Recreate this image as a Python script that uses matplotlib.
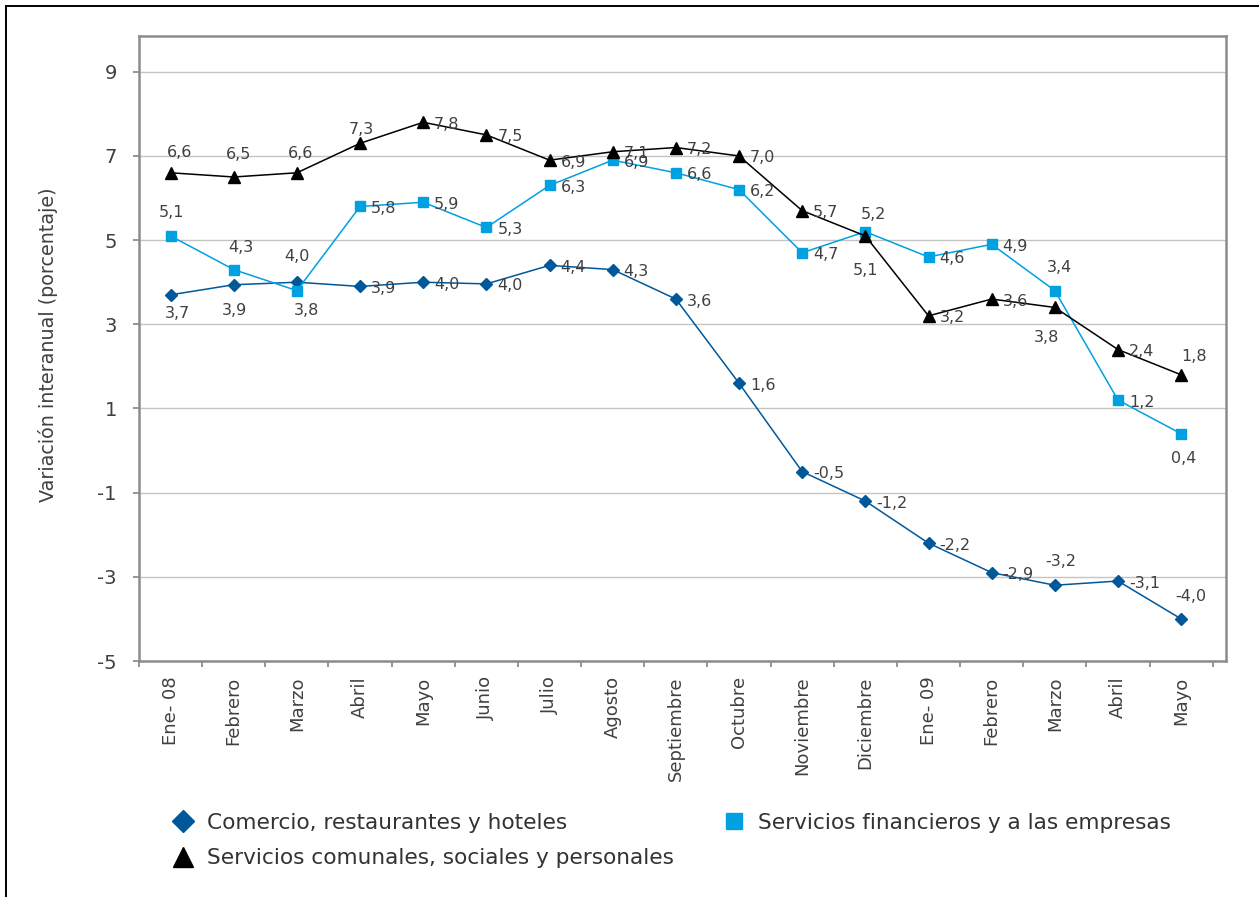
import matplotlib
matplotlib.use("Agg")
import matplotlib.pyplot as plt
from matplotlib.lines import Line2D
import numpy as np

months = ['Ene- 08', 'Febrero', 'Marzo', 'Abril', 'Mayo', 'Junio', 'Julio', 'Agosto',
          'Septiembre', 'Octubre', 'Noviembre', 'Diciembre', 'Ene- 09', 'Febrero',
          'Marzo', 'Abril', 'Mayo']

comercio = [3.7, 3.94, 4.0, 3.9, 4.0, 3.96, 4.4, 4.3, 3.6, 1.6, -0.5, -1.2, -2.2, -2.9, -3.2, -3.1, -4.0]
financieros = [5.1, 4.3, 3.8, 5.8, 5.9, 5.3, 6.3, 6.9, 6.6, 6.2, 4.7, 5.2, 4.6, 4.9, 3.8, 1.2, 0.4]
comunales = [6.6, 6.5, 6.6, 7.3, 7.8, 7.5, 6.9, 7.1, 7.2, 7.0, 5.7, 5.1, 3.2, 3.6, 3.4, 2.4, 1.8]

name_comercio = 'Comercio, restaurantes y hoteles'
name_financieros = 'Servicios financieros y a las empresas'
name_comunales = 'Servicios comunales, sociales y personales'

c_dark = '#00589A'
c_light = '#00A0E1'
c_black = '#000000'
txt = '#404040'

# label placement (pixel offsets of label centre); 'R' = to the right of the marker
R = 'R'
off_comunales = [(9, 20), (5, 22), (4, 19), (1, 14), R, R, R, R, R, R, R, (0, -35), R, R, (5, 40), R, (13, 18)]
off_financieros = [(1, 23), (7, 22), (10, -20), R, R, R, R, R, R, R, R, (8, 17), R, R, (-8, -47), R, (3, -25)]
off_comercio = [(7, -19), (1, -26), (0, 26), R, R, R, R, R, R, R, R, R, R, R, (6, 24), R, (10, 22)]

fig = plt.figure(figsize=(12.59, 8.97), dpi=100)
ax = fig.add_axes([139 / 1259, 1 - 661 / 897, (1226 - 139) / 1259, (661 - 36) / 897])

x = np.arange(len(months))
ax.plot(x, comercio, color=c_dark, marker='D', markersize=6.5, linewidth=1.1, zorder=3)
ax.plot(x, financieros, color=c_light, marker='s', markersize=7.5, linewidth=1.1, zorder=3)
ax.plot(x, comunales, color=c_black, marker='^', markersize=8.5, linewidth=1.1, zorder=4)


def label_series(vals, offs):
    for xi, v, o in zip(x, vals, offs):
        s = f'{v:.1f}'.replace('.', ',')
        if o == R:
            ax.annotate(s, (xi, v), xytext=(11, -2), textcoords='offset pixels',
                        ha='left', va='center', fontsize=11.5, color=txt, zorder=5)
        else:
            ax.annotate(s, (xi, v), xytext=o, textcoords='offset pixels',
                        ha='center', va='center', fontsize=11.5, color=txt, zorder=5)


label_series(comunales, off_comunales)
label_series(financieros, off_financieros)
label_series(comercio, off_comercio)

ax.set_xlim(-0.5, 16.71)
ax.set_ylim(-5, 9.85)
yt = np.arange(-5, 10, 2)
ax.set_yticks(yt)
ax.set_yticklabels([str(v) for v in yt], fontsize=14, color=txt)
ax.yaxis.grid(True, color='#C4C4C4', linewidth=1.0)
ax.set_axisbelow(True)

ax.set_xticks(x)
ax.set_xticklabels(months, rotation=90, fontsize=13, color=txt, va='top', ha='center')
ax.set_xticks(np.arange(-0.5, len(months)), minor=True)
ax.tick_params(axis='x', which='major', length=0, pad=11)
ax.tick_params(axis='x', which='minor', length=4, width=1.3, color='#8C8C8C', direction='out')
ax.tick_params(axis='y', length=4, width=1.3, color='#8C8C8C', pad=12)

for sp in ax.spines.values():
    sp.set_color('#8C8C8C')
    sp.set_linewidth(1.8)

fig.text(48 / 1259, 1 - 345 / 897, 'Variación interanual (porcentaje)', rotation=90,
         ha='center', va='center', fontsize=13.8, color=txt)

handles = [
    Line2D([], [], color=c_dark, marker='D', linestyle='none', markersize=11, label=name_comercio),
    Line2D([], [], color=c_black, marker='^', linestyle='none', markersize=14, label=name_comunales),
    Line2D([], [], color=c_light, marker='s', linestyle='none', markersize=11, label=name_financieros),
]
leg = fig.legend(handles=handles, loc='upper left', bbox_to_anchor=(172 / 1259, 1 - 813 / 897),
                 ncol=2, frameon=False, fontsize=15.6, handlelength=1.0, handletextpad=0.6,
                 columnspacing=2.3, labelspacing=0.7, borderpad=0, borderaxespad=0)
for t in leg.get_texts():
    t.set_color('#333333')

# outer frame (left and top edges visible)
fig.add_artist(Line2D([6 / 1259, 6 / 1259], [0, 1 - 6 / 897], color='black', linewidth=1.4,
                      transform=fig.transFigure))
fig.add_artist(Line2D([6 / 1259, 1], [1 - 6 / 897, 1 - 6 / 897], color='black', linewidth=1.4,
                      transform=fig.transFigure))

fig.savefig('out.png', dpi=100)
